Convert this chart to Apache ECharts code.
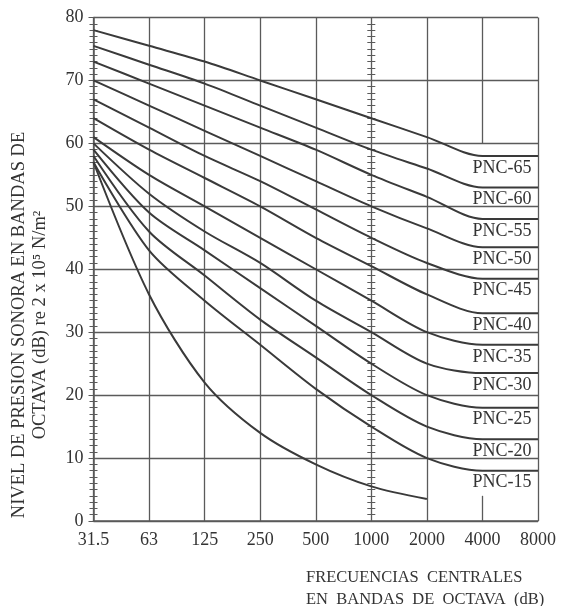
<!DOCTYPE html>
<html>
<head>
<meta charset="utf-8">
<script src="https://cdn.jsdelivr.net/npm/echarts@6/dist/echarts.min.js"></script>
<style>
  html, body { margin: 0; padding: 0; background: #fff; }
  #chart { width: 566px; height: 606px; }
</style>
</head>
<body>
<div id="chart"></div>
<script>
// octave band centre frequencies
const freqs = ['31.5', '63', '125', '250', '500', '1000', '2000', '4000', '8000']

// PNC curves, dB per octave band
const pnc65 = [78, 75.5, 73, 70, 67, 64, 61, 58, 58]
const pnc60 = [75.5, 72.5, 69.5, 66, 62.5, 59, 56, 53, 53]
const pnc55 = [73, 69.5, 66, 62.5, 59, 55, 51.5, 48, 48]
const pnc50 = [70, 66, 62, 58, 54, 50, 46.5, 43.5, 43.5]
const pnc45 = [67, 62.5, 58, 54, 49.5, 45, 41, 38.5, 38.5]
const pnc40 = [64, 59, 54.5, 50, 45, 40.5, 36, 33, 33]
const pnc35 = [61, 55, 50, 45, 40, 35, 30, 28, 28]
const pnc30 = [60, 52, 46, 41, 35, 30, 25, 23.5, 23.5]
const pnc25 = [59, 49, 43, 37, 31, 25, 20, 18, 18]
const pnc20 = [58, 46, 39, 32, 26, 20, 15, 13, 13]
const pnc15 = [57, 43, 35, 28, 21, 15, 10, 8, 8]
// unlabelled lowest curve, stops at 2000 Hz
const lowest = [57, 36, 22, 14, 9, 5.5, 3.5]

const curveNames = ['PNC-65', 'PNC-60', 'PNC-55', 'PNC-50', 'PNC-45', 'PNC-40',
  'PNC-35', 'PNC-30', 'PNC-25', 'PNC-20', 'PNC-15']
const curveValues = [pnc65, pnc60, pnc55, pnc50, pnc45, pnc40,
  pnc35, pnc30, pnc25, pnc20, pnc15]

const ink = '#3a3a3a'
const gridInk = '#5a5a5a'
const serif = '"Liberation Serif", "DejaVu Serif", serif'

const gridLeft = 93.5
const gridRight = 28
const gridWidth = 566 - gridLeft - gridRight
// x offset of the 1000 Hz ruler from the left axis
const rulerShift = gridWidth * 5 / 8

const chart = echarts.init(document.getElementById('chart'))

const makeY = (extra) => Object.assign({
  type: 'value',
  min: 0,
  max: 80,
  interval: 10,
  position: 'left',
  axisLine: { show: false },
  axisTick: { show: true, length: 5, lineStyle: { color: gridInk, width: 1 } },
  minorTick: { show: true, splitNumber: 10, length: 4, lineStyle: { color: gridInk, width: 1 } },
  splitLine: { show: false },
  axisLabel: { show: false }
}, extra)

const curveSeries = curveNames.map((name, i) => ({
  type: 'line',
  name: name,
  data: curveValues[i],
  smooth: 0.3,
  symbol: 'none',
  lineStyle: { color: ink, width: 2 },
  silent: true,
  markPoint: {
    silent: true,
    symbol: 'rect',
    symbolSize: 1,
    itemStyle: { color: 'rgba(0,0,0,0)' },
    label: {
      show: true,
      formatter: name,
      offset: [-36, 12],
      color: '#333',
      fontFamily: serif,
      fontSize: 18
    },
    data: [{ coord: ['8000', curveValues[i][8]] }]
  }
}))

chart.setOption({
  animation: false,
  backgroundColor: '#fff',
  grid: { left: gridLeft, right: gridRight, top: 17.5, bottom: 85 },
  xAxis: {
    type: 'category',
    data: freqs,
    boundaryGap: false,
    axisLine: { show: true, lineStyle: { color: gridInk, width: 1.5 } },
    axisTick: { show: false },
    axisLabel: { color: '#333', fontFamily: serif, fontSize: 18, margin: 10 },
    splitLine: {
      show: true,
      interval: (idx) => idx !== 7,
      lineStyle: { color: gridInk, width: 1.3 }
    }
  },
  yAxis: [
    makeY({
      axisLine: { show: true, lineStyle: { color: gridInk, width: 1.5 } },
      splitLine: { show: true, lineStyle: { color: gridInk, width: 1.3 } },
      axisLabel: { show: true, color: '#333', fontFamily: serif, fontSize: 18, margin: 10 }
    }),
    makeY({ axisTick: { show: true, inside: true, length: 5, lineStyle: { color: gridInk } } }),
    makeY({ offset: -rulerShift }),
    makeY({ offset: -rulerShift, axisTick: { show: true, inside: true, length: 5, lineStyle: { color: gridInk } } })
  ],
  graphic: [{
    type: 'text',
    x: 30,
    y: 325,
    rotation: Math.PI / 2,
    style: {
      text: 'NIVEL DE PRESION SONORA EN BANDAS DE\nOCTAVA (dB) re 2 x 10⁵ N/m²',
      align: 'center',
      verticalAlign: 'middle',
      font: '18.5px ' + serif,
      lineHeight: 21,
      fill: '#333'
    }
  }, {
    type: 'text',
    x: 306,
    y: 589,
    style: {
      text: 'FRECUENCIAS  CENTRALES\nEN  BANDAS  DE  OCTAVA  (dB)',
      align: 'left',
      verticalAlign: 'middle',
      font: '16.5px ' + serif,
      lineHeight: 22,
      fill: '#333'
    }
  }],
  series: curveSeries.concat([{
    type: 'line',
    name: 'lowest',
    data: lowest,
    smooth: 0.3,
    symbol: 'none',
    lineStyle: { color: ink, width: 2 },
    silent: true,
    markLine: {
      silent: true,
      symbol: 'none',
      label: { show: false },
      lineStyle: { type: 'solid', color: gridInk, width: 1.3 },
      data: [
        [{ coord: ['4000', 80] }, { coord: ['4000', 60] }],
        [{ coord: ['4000', 4] }, { coord: ['4000', 0] }]
      ]
    }
  }])
})
</script>
</body>
</html>
